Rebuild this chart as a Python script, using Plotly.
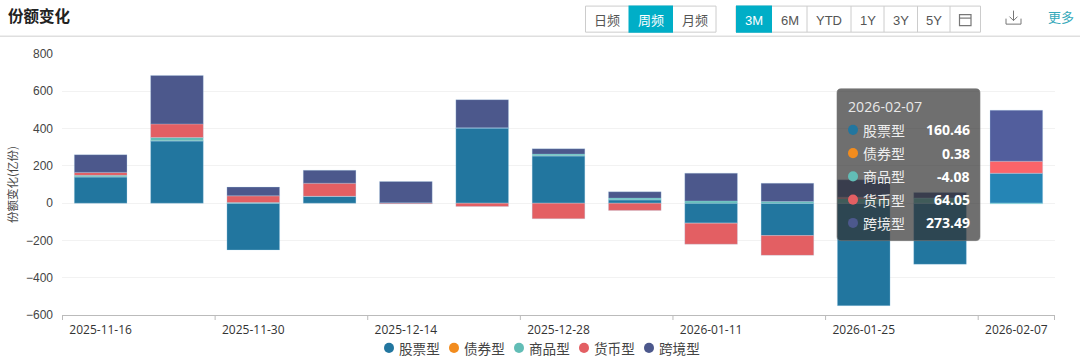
import plotly.graph_objects as go

dates = ["2025-11-16","2025-11-23","2025-11-30","2025-12-07","2025-12-14","2025-12-21","2025-12-28",
         "2026-01-04","2026-01-11","2026-01-18","2026-01-25","2026-02-01","2026-02-07"]
stock     = [140, 333, -251, 36, 1, 403, 253, 18, -107, -174, -550, -328, 160.46]
bond      = [1, 2, 0, 0, 0, 0, 1, 0, -1, 0, 0, 0, 0.38]
commodity = [8, 17, 3, 1, 1, 1, 9, 9, 12, 9, 24, 28, -4.08]
money     = [16, 73, 36, 70, -4, -18, -84, -39, -112, -106, 8, 0, 64.05]
cross     = [95, 260, 47, 69, 114, 151, 29, 34, 149, 98, 93, 29, 273.49]
series_names = ["股票型","债券型","商品型","货币型","跨境型"]
series_vals = [stock, bond, commodity, money, cross]
colors = ["#22769f","#f28c1e","#62bdb6","#e35f63","#4c588c"]
hi_colors = ["#2585b5","#ff9320","#6fd0c8","#fb6469","#525e9d"]
tooltip_vals = ["160.46","0.38","-4.08","64.05","273.49"]

W, H = 1080, 362
L, R, T, B = 62, 25, 54.3, 47.3
PW, PH = W-L-R, H-T-B
FONT = "Noto Sans CJK SC"
px = lambda x: (x-L)/PW
py = lambda y: 1-(y-T)/PH

fig = go.Figure()
for name, vals, c, hc in zip(series_names, series_vals, colors, hi_colors):
    fig.add_bar(x=dates, y=vals, name=name, showlegend=False,
                marker=dict(color=[c]*(len(dates)-1)+[hc], line=dict(color="rgba(175,215,240,0.35)", width=0.8)))

shapes, ann = [], []
def rect(x0,y0,x1,y1,fill=None,line=None,w=1):
    shapes.append(dict(type="rect",xref="paper",yref="paper",x0=px(x0),x1=px(x1),y0=py(y0),y1=py(y1),
                       fillcolor=fill or "rgba(0,0,0,0)",line=dict(color=line or "rgba(0,0,0,0)",width=w if line else 0)))
def hline(x0,y0,x1,y1,c,w=1):
    shapes.append(dict(type="line",xref="paper",yref="paper",x0=px(x0),x1=px(x1),y0=py(y0),y1=py(y1),line=dict(color=c,width=w)))
def text(x,y,s,size=13,color="#444",anchor="center",bold=False,family=FONT):
    ann.append(dict(xref="paper",yref="paper",x=px(x),y=py(y),text=f"<b>{s}</b>" if bold else s,showarrow=False,
                    xanchor=anchor,yanchor="middle",font=dict(size=size,color=color,family=family),borderpad=0,borderwidth=0))
def dot(x,y,r,c):
    shapes.append(dict(type="circle",xref="paper",yref="paper",x0=px(x-r),x1=px(x+r),y0=py(y-r),y1=py(y+r),
                       fillcolor=c,line=dict(width=0),layer="above"))

# header
hline(0,36.5,1080,36.5,"#cfcfcf",1)
text(8,15,"份额变化",15.5,"#222","left",True)
TEAL="#00aec7"
rect(585.5,6.5,716,32.5,None,"#cccccc")
rect(628.5,6,673,33,TEAL)
for s,x,c in [("日频",607,"#555"),("周频",651,"#fff"),("月频",694.5,"#555")]:
    text(x,20,s,13,c)
rect(736,6.5,980.5,32.5,None,"#cccccc")
rect(736,6,772,33,TEAL)
for x in (807,851,884,917.5,950):
    hline(x,6.5,x,32.5,"#cccccc")
for s,x,c in [("3M",754,"#fff"),("6M",789.5,"#555"),("YTD",829,"#555"),("1Y",867.5,"#555"),("3Y",901,"#555"),("5Y",934,"#555")]:
    text(x,20.5,s,13,c,family="Liberation Sans")
rect(959.5,15,971,26,None,"#777",1.2)
hline(959.5,18.5,971,18.5,"#777",1.2)
for a,b,c,d in [(1006,19,1006,24.5),(1006,24.5,1021,24.5),(1021,24.5,1021,19),(1013.5,11,1013.5,21),(1009.5,17,1013.5,21),(1017.5,17,1013.5,21)]:
    hline(a,b,c,d,"#777",1)
text(1061,16.5,"更多",13,"#36a9ba")

# category ticks sit on the band edges
edges = [i-0.5 for i in range(0,len(dates),2)] + [len(dates)-0.5]
for e in edges:
    shapes.append(dict(type="line",xref="x",yref="paper",x0=e,x1=e,y0=0,y1=-5/PH,line=dict(color="#bbbbbb",width=1)))

# legend row
for i,(n,c) in enumerate(zip(series_names,colors)):
    dot(389+i*65,347.5,5,c)
    text(398.5+i*65,348,n,13.6,"#444","left")

# tooltip
def rr(x0,y0,x1,y1,r):
    a,b,c,d=px(x0),px(x1),py(y0),py(y1); rx=r/PW; ry=r/PH
    return (f"M{a+rx},{c} L{b-rx},{c} Q{b},{c} {b},{c-ry} L{b},{d+ry} Q{b},{d} {b-rx},{d} "
            f"L{a+rx},{d} Q{a},{d} {a},{d+ry} L{a},{c-ry} Q{a},{c} {a+rx},{c} Z")
shapes.append(dict(type="path",xref="paper",yref="paper",path=rr(837,89,980,240.5,4),
                   fillcolor="rgba(50,50,50,0.7)",line=dict(width=1,color="rgba(120,120,120,0.6)"),layer="above"))
text(848,107,"2026-02-07",14.2,"#e8e8e8","left",family="Open Sans")
for i,(n,v,c) in enumerate(zip(series_names,tooltip_vals,colors)):
    y=130+i*23.2
    dot(853,y,5,c)
    text(863,y,n,14,"#eeeeee","left")
    text(969.5,y,v,14,"#ffffff","right",True,"Open Sans")

fig.update_layout(
    width=W,height=H,autosize=False,barmode="relative",bargap=0.31,showlegend=False,
    margin=dict(l=L,r=R,t=T,b=B,pad=0),paper_bgcolor="#fff",plot_bgcolor="#fff",
    font=dict(family=FONT,color="#444"),shapes=shapes,annotations=ann,
    xaxis=dict(type="category",categoryorder="array",categoryarray=dates,
               tickmode="array",tickvals=dates[::2],ticktext=dates[::2],ticks="",showgrid=False,zeroline=False,
               showline=True,linecolor="#bbbbbb",linewidth=1,tickangle=0,
               tickfont=dict(size=12,color="#333",family="Open Sans"),ticklabelstandoff=4),
    yaxis=dict(range=[-600,800],tickmode="array",tickvals=[-600,-400,-200,0,200,400,600,800],
               ticks="",showgrid=True,gridcolor="#f2f2f2",gridwidth=1,zeroline=False,showline=False,
               tickfont=dict(size=12,color="#444",family="Liberation Sans"),ticklabelstandoff=8,
               title=dict(text="份额变化(亿份)",standoff=5,font=dict(size=11.5,color="#444",family=FONT)),automargin=False),
)
fig.write_html("out.html",config=dict(displayModeBar=False,responsive=False),
               post_script="document.body.style.margin='0';document.documentElement.style.overflow='hidden';")
